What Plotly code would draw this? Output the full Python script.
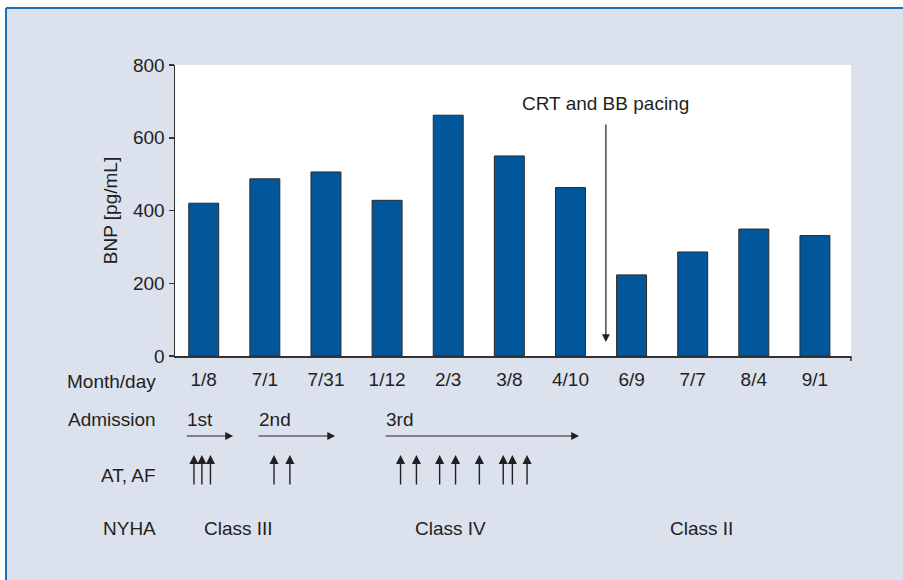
import plotly.graph_objects as go

dates = ["1/8", "7/1", "7/31", "1/12", "2/3", "3/8", "4/10", "6/9", "7/7", "8/4", "9/1"]
bnp = [420, 487, 506, 428, 662, 550, 463, 223, 286, 349, 331]

admissions = ["1st", "2nd", "3rd"]
admission_start = [-0.30, 0.87, 2.95]
admission_end = [0.48, 2.15, 6.14]

at_af_events = [-0.16, -0.03, 0.11, 1.15, 1.41, 3.22, 3.48, 3.86, 4.12, 4.51, 4.90, 5.05, 5.29]

nyha_labels = ["Class III", "Class IV", "Class II"]
nyha_pos = [0.57, 4.04, 8.15]

crt_pos = 6.58
row_labels = ["Month/day", "Admission", "AT, AF", "NYHA"]

FONT = "Liberation Sans, Arial, sans-serif"
TXT = "#231f20"
BG = "#dce1ee"
FS = 19

W, H = 903, 580
L, R, T, B = 175, 52, 65, 224
PW, PH = W - L - R, H - T - B


def px(x):
    return (x - L) / PW


def py(y):
    return (H - B - y) / PH


fig = go.Figure()
fig.add_trace(go.Bar(
    x=list(range(len(dates))), y=bnp, width=0.49,
    marker=dict(color="#02579b", line=dict(color="#2a2a2a", width=1)),
    hoverinfo="skip",
))

shapes = [
    dict(type="rect", xref="paper", yref="paper", x0=px(6), x1=px(W + 5), y0=py(H + 5), y1=py(8),
         fillcolor=BG, line=dict(width=0), layer="below"),
    dict(type="line", xref="paper", yref="paper", x0=px(6), x1=px(W + 5), y0=py(8), y1=py(8),
         line=dict(color="#1f6db3", width=2), layer="below"),
    dict(type="line", xref="paper", yref="paper", x0=px(6), x1=px(6), y0=py(8), y1=py(H + 5),
         line=dict(color="#1f6db3", width=2), layer="below"),
    dict(type="rect", xref="paper", yref="paper", x0=0, x1=1, y0=0, y1=1,
         fillcolor="white", line=dict(width=0), layer="below"),
    dict(type="line", xref="paper", yref="paper", x0=1, x1=1, y0=0, y1=py(H - B + 5),
         line=dict(color="#333", width=1.5)),
]


def txt(**kw):
    d = dict(showarrow=False, yanchor="middle", font=dict(size=FS, color=TXT, family=FONT))
    d.update(kw)
    return d


ann = []
ann.append(txt(xref="x", yref="paper", x=crt_pos, y=py(103), xanchor="center", text="CRT and BB pacing"))
ann.append(dict(xref="x", yref="paper", x=crt_pos, y=py(342), text="", showarrow=True,
                ax=0, ay=-219, arrowhead=2, arrowsize=1.3, arrowwidth=1.2, arrowcolor="#231f20"))

row_y = [381, 419, 476, 528]
for lab, yy in zip(row_labels, row_y):
    ann.append(txt(xref="paper", yref="paper", x=px(158), y=py(yy), xanchor="right", text=lab))

for lab, s, e in zip(admissions, admission_start, admission_end):
    ann.append(txt(xref="x", yref="paper", x=s, y=py(419), xanchor="left", text=lab))
    ann.append(dict(xref="x", yref="paper", x=e, y=py(436), axref="x", ax=s, ay=0, text="",
                    showarrow=True, arrowhead=2, arrowsize=1.3, arrowwidth=1.2, arrowcolor="#231f20"))

for p in at_af_events:
    ann.append(dict(xref="x", yref="paper", x=p, y=py(455), ax=0, ay=31, text="",
                    showarrow=True, arrowhead=2, arrowsize=1.3, arrowwidth=1.4, arrowcolor="#231f20"))

for lab, p in zip(nyha_labels, nyha_pos):
    ann.append(txt(xref="x", yref="paper", x=p, y=py(528), xanchor="center", text=lab))

fig.update_layout(
    width=W, height=H, margin=dict(l=L, r=R, t=T, b=B, autoexpand=False),
    paper_bgcolor="white", plot_bgcolor="rgba(0,0,0,0)",
    showlegend=False, bargap=0.5, hovermode=False,
    font=dict(family=FONT, color=TXT, size=FS),
    shapes=shapes, annotations=ann,
    xaxis=dict(range=[-0.47, 10.59], tickmode="array", tickvals=list(range(len(dates))),
               ticktext=dates, showgrid=False, zeroline=False, showline=True,
               linecolor="#333", linewidth=1.5, ticks="", ticklabelstandoff=6,
               tickfont=dict(size=FS, color=TXT, family=FONT)),
    yaxis=dict(range=[0, 800], tickvals=[0, 200, 400, 600, 800], showgrid=False, zeroline=False,
               showline=True, linecolor="#333", linewidth=1.5, ticks="outside", ticklen=5,
               tickcolor="#333", tickwidth=1.5,
               title=dict(text="BNP [pg/mL]", standoff=10, font=dict(size=FS, color=TXT, family=FONT)),
               tickfont=dict(size=FS, color=TXT, family=FONT)),
)

fig.write_html("out.html", config={"displayModeBar": False, "staticPlot": True},
               post_script="document.body.style.margin='0';document.body.style.overflow='hidden';")
